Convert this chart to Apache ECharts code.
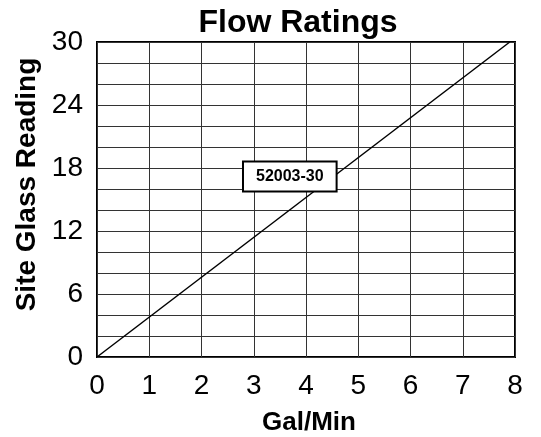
<!DOCTYPE html>
<html>
<head>
<meta charset="utf-8">
<script src="https://cdn.jsdelivr.net/npm/echarts@6/dist/echarts.min.js"></script>
<style>
	html, body { margin: 0; padding: 0; background: #fff; }
	#chart { width: 541px; height: 437px; }
</style>
</head>
<body>
<div id="chart"></div>
<script>
var flowX = [0, 7.9];
var glassY = [0, 30];
var xTicks = [0, 1, 2, 3, 4, 5, 6, 7, 8];
var yTicks = [0, 6, 12, 18, 24, 30];
var modelName = '52003-30';
var labelPos = [3.69, 17.2];

var font = '"Liberation Sans", Arial, sans-serif';
var lineData = [];
for (var i = 0; i < flowX.length; i++) {
	lineData.push([flowX[i], glassY[i]]);
}

var option = {
	animation: false,
	title: {
		text: 'Flow Ratings',
		left: 293,
		top: 2,
		textAlign: 'center',
		textStyle: { fontFamily: font, fontSize: 32, fontWeight: 'bold', color: '#000' }
	},
	grid: {
		left: 97, right: 26, top: 42, bottom: 80,
		containLabel: false,
		outerBoundsMode: 'none',
		show: true,
		borderColor: '#000',
		borderWidth: 2,
		backgroundColor: 'transparent'
	},
	xAxis: {
		type: 'value',
		min: xTicks[0],
		max: xTicks[xTicks.length - 1],
		interval: 1,
		name: 'Gal/Min',
		nameLocation: 'middle',
		nameGap: 53,
		nameTextStyle: { fontFamily: font, fontSize: 26, fontWeight: 'bold', color: '#000', padding: [0, 0, 0, 6] },
		axisLine: { show: false },
		axisTick: { show: false },
		axisLabel: { fontFamily: font, fontSize: 28, color: '#000', margin: 15 },
		splitLine: { lineStyle: { color: '#333', width: 1 } }
	},
	yAxis: {
		type: 'value',
		min: 0,
		max: 30,
		interval: 2,
		name: 'Site Glass Reading',
		nameLocation: 'middle',
		nameGap: 56,
		nameTextStyle: { fontFamily: font, fontSize: 28, fontWeight: 'bold', color: '#000', padding: [0, 0, 0, 30] },
		axisLine: { show: false },
		axisTick: { show: false },
		axisLabel: {
			fontFamily: font, fontSize: 28, color: '#000', margin: 14,
			formatter: function(v) { return yTicks.indexOf(v) >= 0 ? String(v) : ''; }
		},
		splitLine: { lineStyle: { color: '#333', width: 1 } }
	},
	series: [{
		type: 'line',
		data: lineData,
		showSymbol: false,
		lineStyle: { color: '#000', width: 1.5 },
		z: 3
	}, {
		type: 'scatter',
		data: [labelPos],
		symbolSize: 0,
		itemStyle: { opacity: 1 },
		z: 5,
		label: {
			show: true,
			position: 'inside',
			formatter: modelName,
			fontFamily: font,
			fontSize: 16,
			fontWeight: 'bold',
			color: '#000',
			opacity: 1,
			backgroundColor: '#fff',
			borderColor: '#000',
			borderWidth: 2,
			padding: [6, 12]
		}
	}]
};
echarts.init(document.getElementById('chart')).setOption(option);
</script>
</body>
</html>
